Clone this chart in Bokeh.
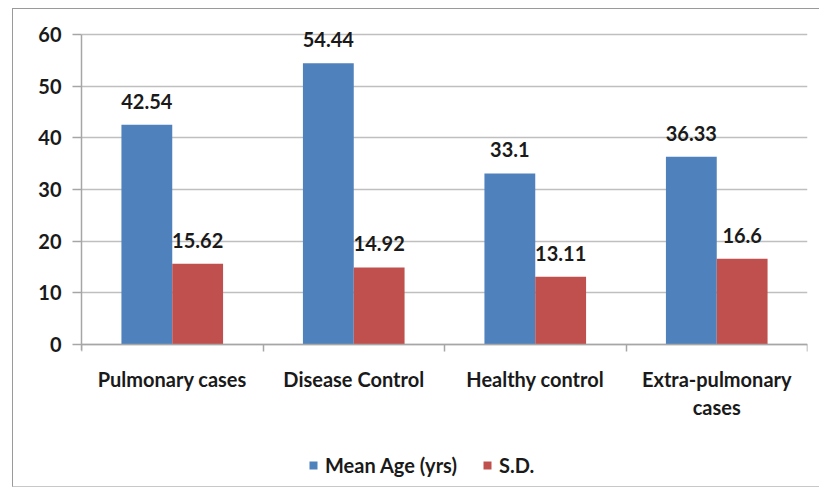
from bokeh.plotting import figure
from bokeh.models import (ColumnDataSource, FixedTicker, Range1d, Legend, LegendItem, LabelSet)
from bokeh.core.properties import value
from bokeh.embed import file_html
from bokeh.resources import INLINE

categories = ["Pulmonary cases", "Disease Control", "Healthy control", "Extra-pulmonary\ncases"]
mean_age = [42.54, 54.44, 33.1, 36.33]
sd = [15.62, 14.92, 13.11, 16.6]
series_names = ["Mean Age (yrs)", "S.D."]
y_ticks = [0, 10, 20, 30, 40, 50, 60]

BLUE = "#4F81BD"
RED = "#C0504D"
FONT = "Lato"
FS = "20px"
BW = 0.28
GRAY = "#a6a6a6"
TXT = "#1a1a1a"

# layout: 60 units over 310 px; frame extends 10 px above 60 and below zero
# so that value labels, category labels and legend are inside it
PPU = 310.0 / 60
TOP_PAD = 10
FRAME_H = 462
Y_TOP = 60 + TOP_PAD / PPU
Y_MIN = 60 - (FRAME_H - TOP_PAD) / PPU

centers = [i + 0.5 for i in range(len(categories))]
src_mean = ColumnDataSource(dict(x=[c - BW / 2 for c in centers], top=mean_age,
                                 lab=[str(v) for v in mean_age]))
src_sd = ColumnDataSource(dict(x=[c + BW / 2 for c in centers], top=sd,
                               lab=[str(v) for v in sd]))

p = figure(frame_width=726, frame_height=FRAME_H, output_backend="svg", toolbar_location=None,
           x_range=Range1d(0, len(categories)), y_range=Range1d(Y_MIN, Y_TOP),
           min_border_left=68, min_border_right=12, min_border_top=15, min_border_bottom=0,
           background_fill_color="white", border_fill_color="white")
p.styles = {"margin-left": "12px", "margin-top": "8px",
            "border-top": "1.5px solid #9a9a9a", "border-left": "1.5px solid #9a9a9a",
            "border-bottom": "1.5px solid #c8c8c8"}
p.outline_line_color = None

r1 = p.vbar(x="x", top="top", bottom=0, width=BW, source=src_mean, fill_color=BLUE, line_color=None)
r2 = p.vbar(x="x", top="top", bottom=0, width=BW, source=src_sd, fill_color=RED, line_color=None)

for src in (src_mean, src_sd):
    p.add_layout(LabelSet(x="x", y="top", text="lab", source=src, text_align="center",
                          text_baseline="bottom", y_offset=16, text_font=value(FONT),
                          text_font_style="bold", text_font_size=FS, text_color=TXT))

# x axis at y=0: labels at category centres, tick marks at boundaries
xa = p.xaxis[0]
xa.fixed_location = 0
xa.ticker = FixedTicker(ticks=centers, minor_ticks=list(range(len(categories) + 1)))
xa.major_label_overrides = {c: lab for c, lab in zip(centers, categories)}
xa.major_tick_line_color = None
xa.major_tick_out = 0
xa.major_tick_in = 0
xa.minor_tick_out = 7
xa.minor_tick_in = 0
xa.minor_tick_line_color = GRAY
xa.minor_tick_line_width = 1.5
xa.axis_line_color = GRAY
xa.axis_line_width = 1.5
xa.major_label_standoff = 15
xa.major_label_text_font = FONT
xa.major_label_text_font_style = "bold"
xa.major_label_text_font_size = FS
xa.major_label_text_color = TXT
xa.major_label_text_line_height = 1.2

ya = p.yaxis[0]
ya.ticker = FixedTicker(ticks=y_ticks)
ya.bounds = (-1.2, 60)
ya.minor_tick_line_color = None
ya.major_tick_out = 9
ya.major_tick_in = 0
ya.major_tick_line_color = GRAY
ya.major_tick_line_width = 1.5
ya.axis_line_color = GRAY
ya.axis_line_width = 1.5
ya.major_label_standoff = 11
ya.major_label_text_font = FONT
ya.major_label_text_font_style = "bold"
ya.major_label_text_font_size = FS
ya.major_label_text_color = TXT

p.xgrid.grid_line_color = None
p.ygrid.ticker = FixedTicker(ticks=y_ticks)
p.ygrid.grid_line_color = "#bfbfbf"
p.ygrid.grid_line_width = 1.5

legend = Legend(items=[LegendItem(label=series_names[0], renderers=[r1]),
                       LegendItem(label=series_names[1], renderers=[r2])],
                orientation="horizontal", location=(227, 9),
                glyph_width=10, glyph_height=10, label_standoff=7, spacing=25,
                padding=0, margin=0, border_line_color=None, background_fill_alpha=0,
                label_text_font=FONT, label_text_font_style="bold",
                label_text_font_size=FS, label_text_color=TXT)
p.add_layout(legend)

open("out.html", "w").write(file_html(p, INLINE))
